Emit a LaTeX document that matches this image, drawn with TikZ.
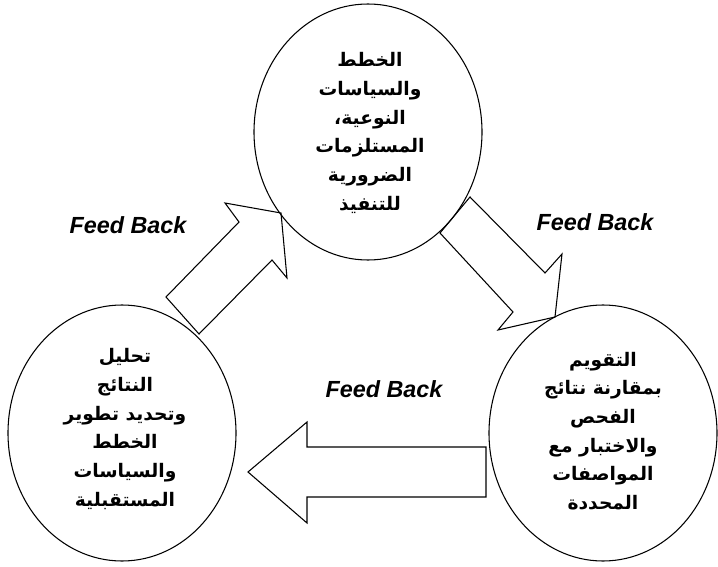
\documentclass[tikz,border=0pt]{standalone}
\usepackage{fontspec}
\setmainfont{Liberation Sans}
\newfontfamily\arabicfont[Script=Arabic]{DejaVu Sans}
\TeXXeTstate=1
\usetikzlibrary{shapes.geometric}

\begin{document}
\begin{tikzpicture}[x=0.75pt,y=-0.75pt,
  stage/.style={draw, ellipse, line width=0.8pt, minimum width=171pt,
    minimum height=192pt, inner sep=0pt},
  stagetext/.style={align=center,
    font=\arabicfont\bfseries\fontsize{14}{21.5}\selectfont},
  fb/.style={font=\bfseries\itshape\fontsize{17.5}{20}\selectfont},
  blockarrow/.style={draw, line width=0.8pt, line join=miter}]
\useasboundingbox (0,0) rectangle (718,567);

% the three stages of the cycle
\node[stage] (plan) at (368,132) {};
\node[stage] (analysis) at (122,433) {};
\node[stage] (evaluation) at (603,433) {};

\node[stagetext] (planText) at (370,133) {%
  \beginR الخطط\endR\\
  \beginR والسياسات\endR\\
  \beginR النوعية،\endR\\
  \beginR المستلزمات\endR\\
  \beginR الضرورية\endR\\
  \beginR للتنفيذ\endR};
\node[stagetext] (analysisText) at (125,429) {%
  \beginR تحليل\endR\\
  \beginR النتائج\endR\\
  \beginR وتحديد تطوير\endR\\
  \beginR الخطط\endR\\
  \beginR والسياسات\endR\\
  \beginR المستقبلية\endR};
\node[stagetext] (evaluationText) at (603,431) {%
  \beginR التقويم\endR\\
  \beginR بمقارنة نتائج\endR\\
  \beginR الفحص\endR\\
  \beginR والاختبار مع\endR\\
  \beginR المواصفات\endR\\
  \beginR المحددة\endR};

% block arrow: analysis -> plan
\coordinate (a1) at (166,297);
\coordinate (a2) at (199,334);
\coordinate (a3) at (239,222);
\coordinate (a4) at (272,260);
\coordinate (a5) at (225,203);
\coordinate (a6) at (287,278);
\coordinate (a7) at (281,213);
\draw[blockarrow] (a1) -- (a3) -- (a5) -- (a7) -- (a6) -- (a4) -- (a2) -- cycle;

% block arrow: plan -> evaluation
\coordinate (b1) at (470,197);
\coordinate (b2) at (440,233);
\coordinate (b3) at (545,273);
\coordinate (b4) at (513,312);
\coordinate (b5) at (562,254);
\coordinate (b6) at (498,330);
\coordinate (b7) at (555,317);
\draw[blockarrow] (b1) -- (b3) -- (b5) -- (b7) -- (b6) -- (b4) -- (b2) -- cycle;

% block arrow: evaluation -> analysis
\coordinate (c1) at (486,447);
\coordinate (c2) at (486,497);
\coordinate (c3) at (307,447);
\coordinate (c4) at (307,497);
\coordinate (c5) at (307,422);
\coordinate (c6) at (307,523);
\coordinate (c7) at (248,472);
\draw[blockarrow] (c1) -- (c3) -- (c5) -- (c7) -- (c6) -- (c4) -- (c2) -- cycle;

% feedback labels
\node[fb] (fbA) at (128,225) {Feed Back};
\node[fb] (fbB) at (595,222) {Feed Back};
\node[fb] (fbC) at (384,389) {Feed Back};
\end{tikzpicture}
\end{document}
